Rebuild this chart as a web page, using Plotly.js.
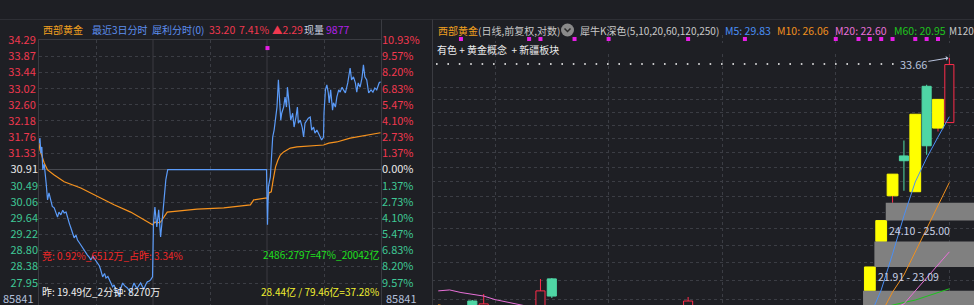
<!DOCTYPE html>
<html><head><meta charset="utf-8">
<script src="https://cdn.plot.ly/plotly-3.0.1.min.js"></script>
<style>html,body{margin:0;padding:0;background:#1e1f24;overflow:hidden}#chart{width:974px;height:305px}</style>
</head><body><div id="chart"></div>
<script>
// ================= DATA =================
const prevClose = 30.91;
const priceTicks = [34.29, 33.87, 33.44, 33.02, 32.60, 32.18, 31.76, 31.33, 30.91, 30.49, 30.06, 29.64, 29.22, 28.80, 28.38, 27.95];
const pctTickText = ["10.93%","9.57%","8.20%","6.83%","5.47%","4.10%","2.73%","1.37%","0.00%","1.37%","2.73%","4.10%","5.47%","6.83%","8.20%","9.57%"];
const volTopLabel = "85841";

// intraday price (minute index over 3 days, 240 per day)
const day1M = [0,2,4,6,8,11,15,18,21,25,28,32,36,39,42,46,50,53,57,60,64,67,70,74,78,81,85,88,92,95,99,102,106,109,113,116,120,123,127,130,134,138,141,145,148,152,155,158,162,166,169,172,176,180,186,190,193,197,200,204,207,211,214,218,221,225,228,232,235,239];
const day1P = [31.60,31.73,31.34,31.50,30.90,31.05,30.56,30.12,30.30,30.04,29.95,29.91,29.80,29.67,29.80,29.73,29.85,29.78,29.80,29.65,29.50,29.39,29.30,29.13,29.20,29.07,29.00,28.94,28.88,28.81,28.75,28.68,28.62,28.55,28.65,28.60,28.50,28.47,28.40,28.29,28.11,28.20,28.08,28.12,28.03,27.95,27.85,27.90,27.77,27.70,27.59,27.80,27.95,27.88,27.82,27.75,27.69,27.85,27.95,27.85,27.82,27.90,27.95,27.85,27.80,27.92,27.98,28.00,28.03,28.11];
const day2M = [241,244,248,252,256,260,263,267,271,479];
const day2P = [29.50,29.93,29.41,29.86,29.15,29.67,30.12,30.64,30.91,30.91];
const day3M = [481,483,487,490,492,495,498,501,504,506,509,511,515,518,521,523,525,527,530,534,537,541,544,546,550,554,557,560,564,567,571,574,578,581,585,588,592,595,599,600,603,606,609,611,614,618,620,624,627,631,634,638,641,645,650,655,658,662,666,669,672,676,680,683,686,690,694,699,703,707,711,716,719];
const day3P = [29.47,30.46,30.72,31.24,31.76,31.94,32.28,32.54,33.25,32.73,32.20,32.38,32.54,32.80,32.54,33.06,32.80,32.46,32.20,32.38,32.02,32.28,32.54,32.12,32.20,32.02,31.76,32.12,32.20,32.25,32.28,31.94,32.02,31.86,31.94,31.86,31.76,31.68,31.76,32.38,32.99,33.12,32.91,32.65,32.99,32.46,32.65,32.54,32.80,32.99,32.93,33.06,32.99,32.91,33.17,33.56,33.25,33.33,33.17,32.93,33.17,33.06,33.30,33.64,33.33,33.25,32.91,32.99,32.93,33.04,32.99,33.17,33.20];
// intraday average price
const avgM = [0,2,11,18,32,53,88,123,158,193,221,239,244,249,256,263,270,333,389,445,452,479,482,484,489,493,498,503,508,515,529,543,571,599,610,627,655,683,719];
const avgP = [31.60,31.42,31.08,30.90,30.77,30.59,30.43,30.20,29.99,29.80,29.60,29.47,29.54,29.52,29.54,29.67,29.80,29.88,29.91,29.99,30.12,30.17,30.12,30.30,30.33,30.64,30.98,31.16,31.29,31.37,31.47,31.50,31.53,31.55,31.60,31.63,31.73,31.79,31.87];
const intradayEventM = [481];
const intradayEventP = [34.08];

const volText = "现量", volValue = "9877";
const auctionNote = "竞: 0.92%_6512万_占昨: 3.34%";
const ratioNote = "2486:2797=47%_20042亿";
const yestNote = "昨: 19.49亿_2分钟: 8270万";
const amountNote = "28.44亿 / 79.46亿=37.28%";

// daily K (visible candles)
const kIdx    = [3, 4, 9, 10, 22, 38, 39, 40, 41, 42, 43, 44, 45];
const kOpen   = [20.43,19.90,20.00,21.38,20.00,20.87,23.09,25.36,27.52,25.57,31.75,29.14,29.47];
const kHigh   = [20.47,20.73,21.38,21.42,20.60,21.91,24.10,26.51,28.40,29.98,31.85,30.91,33.66];
const kLow    = [19.80,19.80,19.90,20.56,19.90,20.87,23.09,25.00,25.62,25.57,27.59,28.93,29.45];
const kClose  = [20.00,20.31,20.86,20.64,20.43,21.91,24.10,26.51,27.25,29.98,28.10,30.91,33.20];
const kLimitUp= [0,0,0,0,0,1,1,1,0,1,0,1,0];
// price gaps (left candle index, low, high)
const gapIdx  = [37, 38, 39];
const gapLow  = [19.95, 21.91, 24.10];
const gapHigh = [20.87, 23.09, 25.00];
// moving averages (segments: start index + values)
const ma5Seg  = [{start:38, v:[19.80,20.90,22.50,24.33,26.09,27.40,28.61,29.83]}];
const ma10Seg = [{start:0, v:[20.28,20.15]}, {start:39, v:[19.90,20.81,21.55,22.59,23.69,24.78,26.06]}];
const ma20Seg = [{start:0, v:[20.86,20.90,20.79,20.71,20.64,20.49,20.40,20.31,20.20,20.10]}, {start:40, v:[20.10,20.31,20.86,21.42,22.00,22.60]}];
const ma60Seg = [{start:39, v:[20.15,20.27,20.37,20.47,20.62,20.77,20.95]}];
const kGridVals = [20.5,21.3,22.1,22.9,23.7,24.5,25.3,26.1,26.9,27.7,28.5,29.3,30.1,30.9,31.7];
const kEventIdx = [2,8,9,12,15,22,27,35,37,38,39,40,42,43,44];
const nCandles = 46;

// ================= STYLE / HELPERS =================
const W = 974, H = 305;
const px = x => x / W, py = y => 1 - y / H;
const BG = '#1e1f24', AXL = '#3a3b41', GRID = '#3b3d44';
const RED = '#f0384f', WHITE = '#e8e8e8', TEAL = '#3fc795';
const KRED = '#ff2d4b', KTEAL = '#4fd6a5', YEL = '#ffff00';
const FONT = '"Noto Sans CJK SC", "Noto Sans", sans-serif';

function segArr(segs){ const a = new Array(nCandles).fill(null); segs.forEach(s=>s.v.forEach((v,k)=>a[s.start+k]=v)); return a; }
const kx = [...Array(nCandles).keys()];
const ma5 = segArr(ma5Seg), ma10 = segArr(ma10Seg), ma20 = segArr(ma20Seg), ma60 = segArr(ma60Seg);
const last = a => { for(let i=a.length-1;i>=0;i--) if(a[i]!=null) return a[i]; };

const traces = [];
// ---- intraday ----
traces.push({x: avgM, y: avgP, xaxis:'x', yaxis:'y', mode:'lines', line:{color:'#f7931e', width:1.2}, hoverinfo:'skip'});
traces.push({x: day1M.concat(day2M, day3M), y: day1P.concat(day2P, day3P), xaxis:'x', yaxis:'y', mode:'lines', line:{color:'#5b9bf8', width:1.2}, hoverinfo:'skip'});
traces.push({x: intradayEventM, y: intradayEventP, xaxis:'x', yaxis:'y', mode:'markers', marker:{symbol:'square', size:4, color:'#e61ee6'}, hoverinfo:'skip'});
['y3','y4','y5','y6','y7'].forEach(a=>traces.push({x:[], y:[], xaxis:'x', yaxis:a, hoverinfo:'skip'}));

// ---- daily K ----
gapIdx.forEach((g,j)=>{
  const x0 = g + 0.4, x1 = nCandles + 3;
  traces.push({x:[x0,x1,x1,x0,x0], y:[gapLow[j],gapLow[j],gapHigh[j],gapHigh[j],gapLow[j]], xaxis:'x2', yaxis:'y2', mode:'lines', fill:'toself', fillcolor:'#808080', line:{width:0}, hoverinfo:'skip'});
});
const isUp = j => kClose[j] >= kOpen[j];
traces.push({type:'bar', x:kIdx, base:kLow, y:kIdx.map((_,j)=>kHigh[j]-kLow[j]), width:0.09, xaxis:'x2', yaxis:'y2',
  marker:{color:kIdx.map((_,j)=> (kLimitUp[j]||isUp(j)) ? KRED : KTEAL), line:{width:0}}, hoverinfo:'skip'});
traces.push({type:'bar', x:kIdx, base:kIdx.map((_,j)=>Math.min(kOpen[j],kClose[j])), y:kIdx.map((_,j)=>Math.max(Math.abs(kClose[j]-kOpen[j]),0.02)),
  width:kIdx.map((_,j)=>kLimitUp[j]?0.95:0.8), xaxis:'x2', yaxis:'y2',
  marker:{color:kIdx.map((_,j)=>kLimitUp[j]?YEL:(isUp(j)?BG:KTEAL)), line:{width:1, color:kIdx.map((_,j)=>kLimitUp[j]?YEL:(isUp(j)?KRED:KTEAL))}}, hoverinfo:'skip'});
[[ma60,'#1ec31e'],[ma20,'#e870d8'],[ma10,'#f0901e'],[ma5,'#4a8ff5']].forEach(([a,c])=>{
  traces.push({x:kx, y:a, xaxis:'x2', yaxis:'y2', mode:'lines', line:{color:c, width:1}, connectgaps:false, hoverinfo:'skip'});
});
traces.push({x:kEventIdx, y:kEventIdx.map(()=>0.5), xaxis:'x2', yaxis:'y8', mode:'markers', marker:{symbol:'square', size:4, color:'#e61ee6'}, hoverinfo:'skip'});

// ================= LAYOUT =================
const yIntRange = [27.376, 34.2905];
const yIntDomain = [0, py(40)];
const tickAxis = (vals, texts, color, side, grid, overlay) => Object.assign({
  domain: yIntDomain, range: yIntRange, anchor:'x', side: side, tickmode:'array', tickvals: vals, ticktext: texts,
  tickfont:{color: color, size:11, family:FONT}, ticks:'', showgrid: grid, gridcolor: GRID, griddash:'dot', gridwidth:1,
  zeroline:false, showline:false, fixedrange:true
}, overlay ? {overlaying:'y'} : {});
const fmt = v => v.toFixed(2);

const layout = {
  width: W, height: H, margin:{l:0,r:0,t:0,b:0,pad:0},
  paper_bgcolor: BG, plot_bgcolor: BG, showlegend:false, barmode:'overlay',
  font:{family: FONT, size:10, color: WHITE},
  xaxis:{domain:[px(39), px(381)], range:[0,720], anchor:'y', showticklabels:false, ticks:'', tickmode:'array', tickvals:[120,360,600],
    showgrid:true, gridcolor:GRID, griddash:'dot', zeroline:false, showline:true, mirror:true, linecolor:AXL, fixedrange:true},
  yaxis: Object.assign(tickAxis(priceTicks.slice(0,8), priceTicks.slice(0,8).map(fmt), RED, 'left', true, false), {showline:true, linecolor:AXL}),
  yaxis3: tickAxis([priceTicks[8]], [fmt(priceTicks[8])], WHITE, 'left', false, true),
  yaxis4: tickAxis(priceTicks.slice(9), priceTicks.slice(9).map(fmt), TEAL, 'left', true, true),
  yaxis5: tickAxis(priceTicks.slice(0,8), pctTickText.slice(0,8), RED, 'right', false, true),
  yaxis6: tickAxis([priceTicks[8]], [pctTickText[8]], WHITE, 'right', false, true),
  yaxis7: tickAxis(priceTicks.slice(9), pctTickText.slice(9), TEAL, 'right', false, true),
  xaxis2:{domain:[px(432), 1], range:[-0.55, 47.17], anchor:'y2', showticklabels:false, ticks:'', tickmode:'array', tickvals:[5,15,25,35,45],
    showgrid:true, gridcolor:GRID, griddash:'dot', zeroline:false, showline:false, fixedrange:true},
  yaxis2:{domain:[0, py(54)], type:'log', range:[Math.log10(20.264), Math.log10(33.927)], anchor:'x2', showticklabels:false, ticks:'',
    tickmode:'array', tickvals:kGridVals, showgrid:true, gridcolor:GRID, griddash:'dot', zeroline:false, showline:false, fixedrange:true},
  yaxis8:{domain:[0.86, 0.885], range:[0,1], anchor:'x2', visible:false, fixedrange:true},
  shapes:[], annotations:[]
};

const S = layout.shapes, A = layout.annotations;
const pline = (x0,y0,x1,y1,color,width,dash) => S.push({type:'line', xref:'paper', yref:'paper', x0:px(x0), y0:py(y0), x1:px(x1), y1:py(y1), line:{color, width, dash: dash||'solid'}, layer:'above'});
pline(0,19.5,974,19.5,'#2e2f35',1);
pline(381.5,19.5,381.5,305,AXL,1);
pline(432.5,19.5,432.5,305,AXL,1);
// day boundaries & prev close line (intraday)
[240,480].forEach(m=>S.push({type:'line', xref:'x', yref:'paper', x0:m, x1:m, y0:0, y1:py(40), line:{color:AXL, width:1}, layer:'below'}));
S.push({type:'line', xref:'x', yref:'y', x0:0, x1:720, y0:prevClose, y1:prevClose, line:{color:'#4a4c53', width:1}, layer:'below'});
// leader dots to the high label
pline(436,64,897,64,'#ffffff',1.6,'1.6px,9.8px');
// icon
S.push({type:'circle', xref:'paper', yref:'paper', x0:px(561), x1:px(574), y0:py(36.5), y1:py(23.5), fillcolor:'#8a8a8a', line:{width:0}});
S.push({type:'path', xref:'paper', yref:'paper', path:`M ${px(564.5)} ${py(28.5)} L ${px(567.5)} ${py(31.5)} L ${px(570.5)} ${py(28.5)}`, line:{color:'#2b2b2b', width:1.5}});

const T = (text,x,y,color,anchor,size) => A.push({text, x:px(x), y:py(y), xref:'paper', yref:'paper', xanchor:anchor||'left', yanchor:'middle', showarrow:false, font:{color, size:size||10, family:FONT}});
const lastPrice = last(day3P);
const chg = lastPrice - prevClose;
// left header
T('西部黄金', 41, 29.5, '#f0a020');
T('最近3日分时', 90, 29.5, '#5d8ff0');
T('犀利分时(0)', 150, 29.5, '#5d8ff0');
T(fmt(lastPrice), 207, 29.5, RED, 'left', 10.5);
T((chg/prevClose*100).toFixed(2)+'%', 237, 29.5, RED, 'left', 10.5);
T('▲'+fmt(chg), 270, 29.5, RED, 'left', 10.5);
T(volText, 302, 29.5, '#c8d0e0');
T(volValue, 324, 29.5, '#b020e8', 'left', 10.5);
// intraday notes
T(auctionNote, 40, 255, '#f02828');
T(ratioNote, 381, 254.5, '#1fe01f', 'right');
T(yestNote, 40, 291, '#f0f0f0');
T(amountNote, 381, 291.5, '#f0f030', 'right');
T(volTopLabel, 36, 298, '#b4c0dc', 'right', 11);
T(volTopLabel, 384, 298, '#b4c0dc', 'left', 11);
// right header
T('西部黄金', 436, 30, '#f0a020');
T('(日线,前复权,对数)', 476, 30, '#c8c8c8');
T('犀牛K深色(5,10,20,60,120,250)', 578, 30, '#c8c8c8');
T('M5: '+fmt(last(ma5)), 723, 30, '#4a8ff5', 'left', 10.5);
T('M10: '+fmt(last(ma10)), 775, 30, '#f0901e', 'left', 10.5);
T('M20: '+fmt(last(ma20)), 833, 30, '#e870d8', 'left', 10.5);
T('M60: '+fmt(last(ma60)), 892, 30, '#1ec31e', 'left', 10.5);
T('M120', 947, 30, '#c8c8c8', 'left', 10);
T('有色 + 黄金概念  + 新疆板块', 435, 49.5, '#ececec');
// gap labels
gapIdx.forEach((g,j)=>A.push({text: fmt(gapLow[j])+' - '+fmt(gapHigh[j]), x: g+0.5, y: Math.log10(gapLow[j]), xref:'x2', yref:'y2', xanchor:'left', yanchor:'top', showarrow:false, font:{color:'#c9d1e6', size:10.5, family:FONT}}));
// high label
const kMax = Math.max(...kHigh), kMaxI = kIdx[kHigh.indexOf(kMax)];
A.push({text: fmt(kMax), x: kMaxI, y: Math.log10(kMax), xref:'x2', yref:'y2', showarrow:true, ax:-36, ay:6, arrowhead:1, arrowsize:0.8, arrowwidth:1, arrowcolor:'#b8c2dc', standoff:1, font:{color:'#b8c2dc', size:11, family:FONT}});

Plotly.newPlot('chart', traces, layout, {staticPlot:true, displayModeBar:false});
</script></body></html>
